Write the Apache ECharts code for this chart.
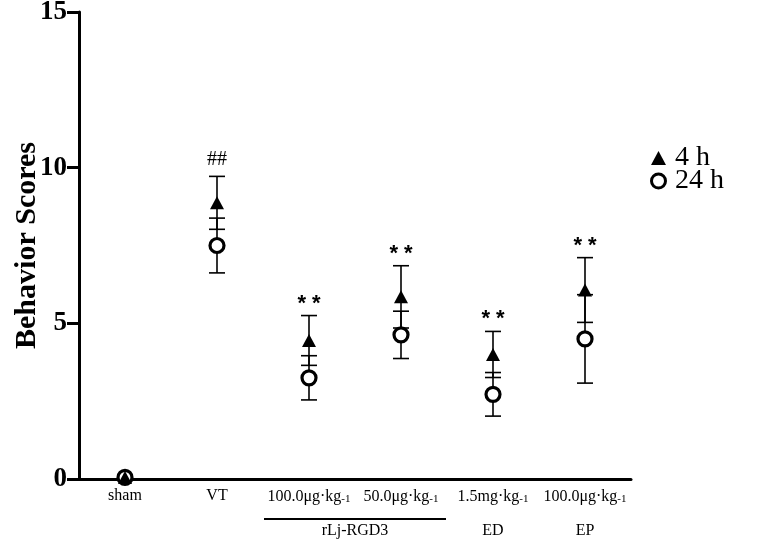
<!DOCTYPE html>
<html>
<head>
<meta charset="utf-8">
<script src="https://cdn.jsdelivr.net/npm/echarts@6/dist/echarts.min.js"></script>
<style>html,body{margin:0;padding:0;background:#fff}#c{width:783px;height:555px}</style>
</head>
<body>
<div id="c"></div>
<script>
// ---- data ----
const categories = ['sham', 'VT', 'rLj100', 'rLj50', 'ED', 'EP'];
const tickLabels = ['sham', 'VT', '100.0μg·kg-1', '50.0μg·kg-1', '1.5mg·kg-1', '100.0μg·kg-1'];
const groupLabels = ['', '', 'rLj-RGD3', 'rLj-RGD3', 'ED', 'EP'];
const mean4h  = [0.05, 8.87, 4.45, 5.85, 4.0, 6.07];
const sd4h    = [0, 0.85, 0.8, 1.0, 0.74, 1.04];
const mean24h = [0.05, 7.5, 3.25, 4.63, 2.72, 4.5];
const sd24h   = [0, 0.88, 0.71, 0.76, 0.7, 1.42];
const annotations = ['', '##', '**', '**', '**', '**'];
const yTicks = [0, 5, 10, 15];
const seriesNames = ['4 h', '24 h'];

const FONT = 'Liberation Serif';
const chart = echarts.init(document.getElementById('c'));

function errData(means, sds) {
  return means.map((m, i) => [i, m, sds[i]]);
}

function renderErr(withAnno) {
  return function (params, api) {
    const i = api.value(0), m = api.value(1), s = api.value(2);
    const top = api.coord([i, m + s]);
    const bot = api.coord([i, m - s]);
    const hw = 8;
    const style = { stroke: '#000', lineWidth: 1.6 };
    const children = [];
    if (s > 0) {
      children.push({ type: 'line', shape: { x1: top[0], y1: top[1], x2: bot[0], y2: bot[1] }, style });
      children.push({ type: 'line', shape: { x1: top[0] - hw, y1: top[1], x2: top[0] + hw, y2: top[1] }, style });
      children.push({ type: 'line', shape: { x1: bot[0] - hw, y1: bot[1], x2: bot[0] + hw, y2: bot[1] }, style });
    }
    if (withAnno && annotations[i]) {
      const isHash = annotations[i] === '##';
      children.push({
        type: 'text',
        style: {
          x: top[0], y: top[1] - (isHash ? 7 : 1),
          text: isHash ? '##' : '* *',
          fill: '#000',
          font: isHash ? '20px "Liberation Serif"' : 'bold 22px "Liberation Sans"',
          align: 'center', verticalAlign: 'bottom'
        }
      });
    }
    return { type: 'group', children };
  };
}

const option = {
  animation: false,
  backgroundColor: '#fff',
  grid: { left: 79, right: 152, top: 12, bottom: 76, containLabel: false, outerBoundsMode: 'none' },
  legend: {
    orient: 'vertical', left: 645, top: 139, itemGap: -5,
    itemWidth: 15, itemHeight: 14,
    textStyle: { fontFamily: FONT, fontSize: 28, lineHeight: 18, color: '#000', padding: [0, 0, 0, 4] },
    data: [
      { name: seriesNames[0], icon: 'triangle', itemStyle: { color: '#000', borderWidth: 0 } },
      { name: seriesNames[1], icon: 'circle', itemStyle: { color: '#fff', borderColor: '#000', borderWidth: 3 } }
    ]
  },
  xAxis: {
    type: 'category',
    data: categories,
    boundaryGap: true,
    axisLine: { lineStyle: { color: '#000', width: 3 } },
    axisTick: { alignWithLabel: true, length: 8, lineStyle: { color: '#000', width: 3 } },
    axisLabel: {
      margin: 9, color: '#000', fontFamily: FONT, fontSize: 16, interval: 0,
      formatter: (v, i) => tickLabels[i].replace('kg-1', 'kg{sub|-1}'),
      rich: { sub: { fontFamily: FONT, fontSize: 11, verticalAlign: 'bottom', padding: [6, 0, 0, 0], color: '#000' } }
    }
  },
  yAxis: {
    type: 'value', min: 0, max: 15, interval: 5,
    name: 'Behavior Scores', nameLocation: 'middle', nameGap: 37, nameRotate: 90,
    nameMoveOverlap: false,
    nameTextStyle: { fontFamily: FONT, fontSize: 30, fontWeight: 'bold', color: '#000' },
    axisLine: { show: true, lineStyle: { color: '#000', width: 3 } },
    axisTick: { show: true, length: 12, lineStyle: { color: '#000', width: 3 } },
    splitLine: { show: false },
    axisLabel: {
      margin: 12, color: '#000', fontFamily: FONT, fontSize: 27, fontWeight: 'bold',
      formatter: v => (yTicks.indexOf(v) >= 0 ? String(v) : '')
    }
  },
  series: [
    { type: 'custom', name: 'err24', renderItem: renderErr(false), data: errData(mean24h, sd24h), z: 1, silent: true },
    { type: 'custom', name: 'err4', renderItem: renderErr(true), data: errData(mean4h, sd4h), z: 1, silent: true },
    {
      type: 'scatter', name: seriesNames[1], data: mean24h.map((m, i) => [i, m]),
      symbol: 'circle', symbolSize: 14, z: 3,
      itemStyle: { color: '#fff', borderColor: '#000', borderWidth: 3.2, opacity: 1 }
    },
    {
      type: 'scatter', name: seriesNames[0], data: mean4h.map((m, i) => [i, m]),
      symbol: 'triangle', symbolSize: [14, 13], z: 4,
      itemStyle: { color: '#000', opacity: 1 }
    }
  ]
};
chart.setOption(option);

// second row of group labels, placed through the category axis scale
const baseY = chart.convertToPixel({ yAxisIndex: 0 }, 0);
const graphics = [];
const groups = {};
groupLabels.forEach((g, i) => { if (g) { (groups[g] = groups[g] || []).push(i); } });
Object.keys(groups).forEach(g => {
  const idx = groups[g];
  const xs = idx.map(i => chart.convertToPixel({ xAxisIndex: 0 }, i));
  const cx = (Math.min(...xs) + Math.max(...xs)) / 2;
  if (idx.length > 1) {
    graphics.push({
      type: 'line',
      shape: { x1: Math.min(...xs) - 45, y1: baseY + 40, x2: Math.max(...xs) + 45, y2: baseY + 40 },
      style: { stroke: '#000', lineWidth: 2 }
    });
  }
  graphics.push({
    type: 'text',
    style: { x: cx, y: baseY + 52, text: g, font: '16px "Liberation Serif"', fill: '#000', align: 'center', verticalAlign: 'middle' }
  });
});
chart.setOption({ graphic: graphics });
</script>
</body>
</html>
